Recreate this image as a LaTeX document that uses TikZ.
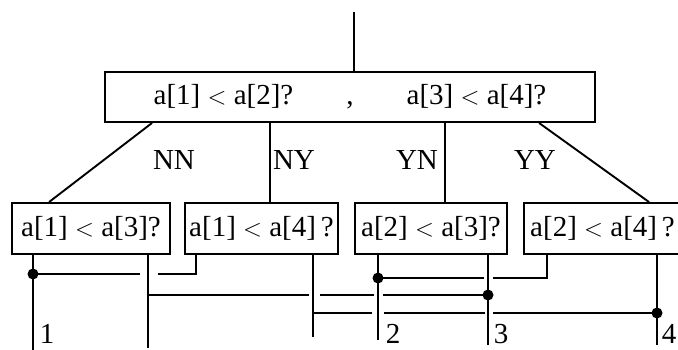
\documentclass[tikz,border=0pt]{standalone}
\usepackage{fontspec}
\setmainfont{Liberation Serif}
\usetikzlibrary{calc}
\newcommand{\lt}{\ensuremath{<}}
\begin{document}
\begin{tikzpicture}[x=1pt,y=-1pt, line width=1.9pt,
  box/.style={draw, inner sep=0pt, minimum height=51pt, font=\fontsize{29}{32}\selectfont},
  lbl/.style={font=\fontsize{29}{32}\selectfont, inner sep=0pt},
  dot/.style={circle, fill, inner sep=0pt, minimum size=11pt}]
\useasboundingbox (0,0) rectangle (678,350);
% boxes
\node[box, minimum width=490pt, minimum height=50pt] (top) at (350,97)
  {\makebox[140pt][c]{a[1] \lt{} a[2]?}\makebox[113pt][c]{,}\makebox[140pt][c]{a[3] \lt{} a[4]?}};
\node[box, minimum width=158pt] (b1) at (91,228.5) {a[1] \lt{} a[3]?};
\node[box, minimum width=153pt] (b2) at (261.5,228.5) {a[1] \lt{} a[4]\,?};
\node[box, minimum width=152pt] (b3) at (431,228.5) {a[2] \lt{} a[3]?};
\node[box, minimum width=157pt] (b4) at (602.5,228.5) {a[2] \lt{} a[4]\,?};
% input
\coordinate (in) at (354,12);
\draw (in) -- (in |- top.north);
% branches
\draw ($(top.south west)+(48,0)$) -- ($(b1.north west)+(38,0)$);
\draw ($(top.south west)+(166,0)$) -- ($(b2.north west)+(86,0)$);
\draw ($(top.south west)+(341,0)$) -- ($(b3.north west)+(91,0)$);
\draw ($(top.south west)+(435,0)$) -- ($(b4.north west)+(126,0)$);
\node[lbl] (nn) at (174,160) {NN};
\node[lbl] (ny) at (294,160) {NY};
\node[lbl] (yn) at (417,160) {YN};
\node[lbl] (yy) at (535,160) {YY};
% junction and end coordinates
\coordinate (e1) at (33,350);
\coordinate (e2) at (148,348);
\coordinate (e4) at (313,337);
\coordinate (e5) at (378,340);
\coordinate (e6) at (488,345);
\coordinate (e8) at (657,345);
\coordinate (j1) at (33,274);
\coordinate (j2) at (196,274);
\coordinate (j3) at (378,278);
\coordinate (j4) at (547,278);
\coordinate (j5) at (148,295);
\coordinate (j6) at (488,295);
\coordinate (j7) at (313,313);
\coordinate (j8) at (657,313);
% vertical outputs
\draw (b1.south -| e1) -- (e1);
\draw (b1.south -| e2) -- (e2);
\draw (b2.south -| e4) -- (e4);
\draw (b3.south -| e5) -- (e5);
\draw (b3.south -| e6) -- (e6);
\draw (b4.south -| e8) -- (e8);
% horizontals with crossing gaps
\draw (j1) -- ($(j1 -| e2)+(-8,0)$)
      ($(j1 -| e2)+(10,0)$) -- (j2) -- (b2.south -| j2);
\draw (j5) -- ($(j5 -| e4)+(-4,0)$)
      ($(j5 -| e4)+(7,0)$) -- ($(j5 -| e5)+(-4,0)$)
      ($(j5 -| e5)+(5,0)$) -- (j6);
\draw (j7) -- ($(j7 -| e5)+(-6,0)$)
      ($(j7 -| e5)+(6,0)$) -- ($(j7 -| e6)+(-3,0)$)
      ($(j7 -| e6)+(5,0)$) -- (j8);
\draw (j3) -- ($(j3 -| e6)+(-4,0)$)
      ($(j3 -| e6)+(5,0)$) -- (j4) -- (b4.south -| j4);
% dots
\node[dot] (d1) at (j1) {};
\node[dot] (d3) at (j3) {};
\node[dot] (d6) at (j6) {};
\node[dot] (d8) at (j8) {};
% output labels
\node[lbl] (n1) at (47,334) {1};
\node[lbl] (n2) at (393,334) {2};
\node[lbl] (n3) at (501,334) {3};
\node[lbl] (n4) at (669,334) {4};
\end{tikzpicture}
\end{document}
